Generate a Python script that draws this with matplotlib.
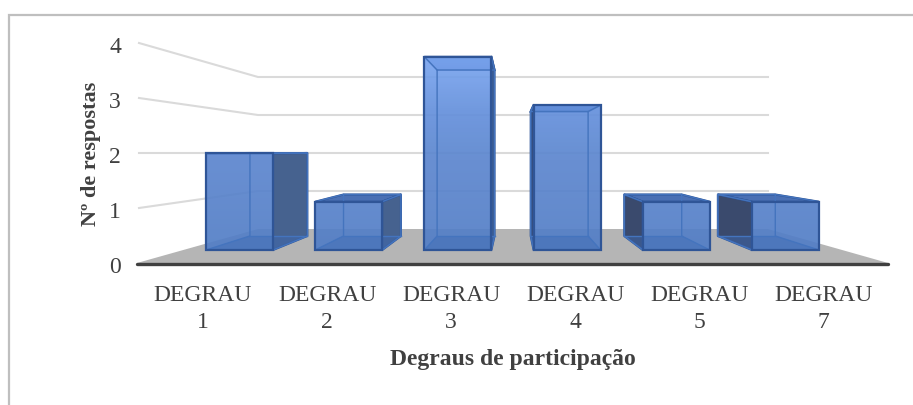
import numpy as np
import matplotlib
matplotlib.use("Agg")
import matplotlib.pyplot as plt
from matplotlib.patches import Polygon

categories = ["DEGRAU\n1", "DEGRAU\n2", "DEGRAU\n3", "DEGRAU\n4", "DEGRAU\n5", "DEGRAU\n7"]
values = [2, 1, 4, 3, 1, 1]
y_ticks = [0, 1, 2, 3, 4]
x_title = "Degraus de participação"
y_title = "Nº de respostas"

plt.rcParams['font.family'] = ['Liberation Serif', 'DejaVu Serif']
W, H = 913, 406
fig = plt.figure(figsize=(W / 100, H / 100), dpi=100)
ax = fig.add_axes([0, 0, 1, 1])
XLIM, YLIM = (0, W), (H - 1, -1)
ax.set_xlim(*XLIM)
ax.set_ylim(*YLIM)
ax.axis("off")

# Projection of the 3-D scene onto the picture
def wall_front_y(v): return 263 - 55 * v
def wall_back_y(v): return 229 - 38 * v
def bar_front_y(v): return 250 - 48.3 * v
def bar_back_y(v): return 236 - 41.5 * v
def bar_back_x(x): return 73.4 + 0.857 * x
def bar_left(i): return 206 + 109.2 * i
BAR_W = 67
WALL_L, WALL_B_L, WALL_B_R = 139, 258, 768

GRID = "#DADADA"
EDGE = "#2F5597"
INNER = "#4474BE"
TXT = "#404040"

# frame
ax.plot([W + 2, 8.5, 8.5], [15, 15, H + 2], color="#BFBFBF", lw=1.6, solid_joinstyle="miter", zorder=1)

# floor
ax.add_patch(Polygon([(137, 263), (WALL_B_L, 229), (WALL_B_R, 229), (888, 263)],
                     closed=True, fc="#B5B5B5", ec="none", zorder=2))
# gridlines and wall lines
for v in y_ticks[1:]:
    ax.plot([WALL_L, WALL_B_L, WALL_B_R], [wall_front_y(v), wall_back_y(v), wall_back_y(v)],
            color=GRID, lw=1.5, zorder=2, solid_joinstyle="miter")
ax.plot([137, 888], [263.5, 263.5], color="#404040", lw=2.4, zorder=6, solid_capstyle="round")

# vertical gradient for front faces
grad = np.array([[0x7B, 0xA6, 0xF0], [0x64, 0x90, 0xDC], [0x5B, 0x85, 0xCE], [0x52, 0x7E, 0xC6]]) / 255
grad_y = np.array([57, 110, 160, 250])
ys = np.linspace(50, 255, 100)
img = np.stack([np.interp(ys, grad_y, grad[:, c]) for c in range(3)], axis=1)[:, None, :]

for i, v in enumerate(values):
    fl, fr = bar_left(i), bar_left(i) + BAR_W
    bl, br = bar_back_x(fl), bar_back_x(fr)
    fb, ft = bar_front_y(0), bar_front_y(v)
    bb, bt = bar_back_y(0), bar_back_y(v)
    z = 3 + i * 0.01
    # top
    ax.add_patch(Polygon([(fl, ft), (bl, bt), (br, bt), (fr, ft)], fc="#4A70B4", ec=EDGE, lw=1.5, zorder=z + 0.001))
    # visible dark side
    if br > fr:
        ax.add_patch(Polygon([(fr, fb), (br, bb), (br, bt), (fr, ft)], fc="#46628F", ec=EDGE, lw=1.5,
                             zorder=z + 0.002, joinstyle="round"))
    if bl < fl:
        ax.add_patch(Polygon([(fl, fb), (bl, bb), (bl, bt), (fl, ft)], fc="#3A4A6D", ec=EDGE, lw=1.5,
                             zorder=z + 0.002, joinstyle="round"))
    # front face
    front = Polygon([(fl, fb), (fl, ft), (fr, ft), (fr, fb)], fc="none", ec="none", zorder=z + 0.003)
    ax.add_patch(front)
    im = ax.imshow(img, extent=(0, W, ys[-1], ys[0]), aspect="auto", alpha=0.92, zorder=z + 0.003, interpolation="bilinear")
    im.set_clip_path(front)
    # bar floor seen through the front
    ax.add_patch(Polygon([(fl, fb), (bl, bb), (br, bb), (fr, fb)], fc="#3E6AB4", ec="none", alpha=0.45, zorder=z + 0.0035))
    # inner edges seen through the front
    ax.plot([fl, bl, bl, br, br, fr], [fb, bb, bt, bt, bb, fb], color=INNER, lw=1.0, zorder=z + 0.004)
    ax.plot([bl, br], [bb, bb], color=INNER, lw=1.0, zorder=z + 0.004)
    ax.plot([bl, fl], [bt, ft], color=INNER, lw=1.0, zorder=z + 0.004)
    ax.plot([br, fr], [bt, ft], color=INNER, lw=1.0, zorder=z + 0.004)
    ax.add_patch(Polygon([(fl, fb), (fl, ft), (fr, ft), (fr, fb)], fc="none", ec=EDGE, lw=1.6, zorder=z + 0.005))
    # category label
    word, num = categories[i].split("\n")
    ax.text(203 + 124.1 * i, 295, word, ha="center", va="center", fontsize=17, color=TXT)
    ax.text(203 + 124.1 * i, 322, num, ha="center", va="center", fontsize=17, color=TXT)

ax.set_xlim(*XLIM)
ax.set_ylim(*YLIM)

for v in y_ticks:
    ax.text(115, wall_front_y(v) + 3.5, str(v), ha="center", va="center", fontsize=17, color=TXT)

ax.text(513, 359, x_title, ha="center", va="center", fontsize=17, fontweight="bold", color=TXT)
ax.text(91, 153, y_title, ha="center", va="center", rotation=90, fontsize=16, fontweight="bold", color=TXT)

fig.savefig("out.png", dpi=100)
